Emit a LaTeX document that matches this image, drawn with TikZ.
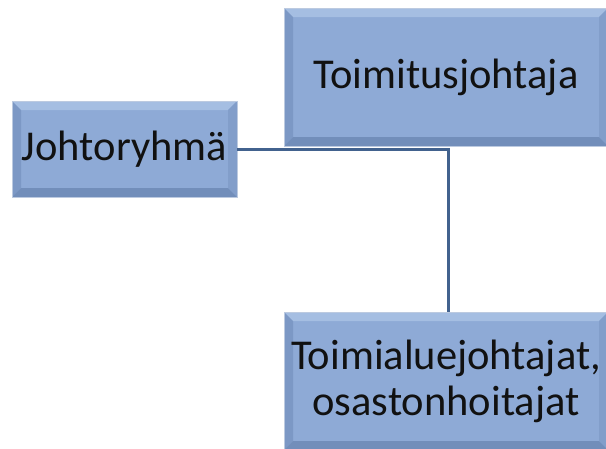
\documentclass[tikz,border=0pt]{standalone}
\usepackage{fontspec}
\setmainfont{Carlito}
\definecolor{boxfill}{RGB}{142,170,214}
\definecolor{bevtop}{RGB}{165,190,226}
\definecolor{bevleft}{RGB}{124,152,197}
\definecolor{bevright}{RGB}{130,158,202}
\definecolor{bevbot}{RGB}{114,142,186}
\definecolor{boxborder}{RGB}{188,202,224}
\definecolor{linecol}{RGB}{66,98,142}
\definecolor{txt}{RGB}{17,17,17}
\tikzset{
  bevelbox/.style={fill=boxfill, draw=boxborder, line width=0.8pt, inner sep=0pt,
    text=txt, font=\fontsize{42.5}{46}\selectfont, align=center,
    path picture={
      \path (path picture bounding box.north west) coordinate (pnw)
            (path picture bounding box.north east) coordinate (pne)
            (path picture bounding box.south west) coordinate (psw)
            (path picture bounding box.south east) coordinate (pse);
      \fill[bevtop] (pnw) -- (pne) -- ([shift={(-9pt,-9pt)}]pne) -- ([shift={(9pt,-9pt)}]pnw) -- cycle;
      \fill[bevleft] (pnw) -- ([shift={(9pt,-9pt)}]pnw) -- ([shift={(9pt,9pt)}]psw) -- (psw) -- cycle;
      \fill[bevright] (pne) -- ([shift={(-9pt,-9pt)}]pne) -- ([shift={(-9pt,9pt)}]pse) -- (pse) -- cycle;
      \fill[bevbot] (psw) -- ([shift={(9pt,9pt)}]psw) -- ([shift={(-9pt,9pt)}]pse) -- (pse) -- cycle;
    }},
  conn/.style={draw=linecol, line width=3pt}
}
\begin{document}
\begin{tikzpicture}[x=1pt,y=-1pt]
\useasboundingbox (0,0) rectangle (606,448);
\clip (0,0) rectangle (606,448);
\node[bevelbox, minimum width=324pt, minimum height=138pt] (ceo) at (446,77) {Toimitusjohtaja};
\node[bevelbox, minimum width=225pt, minimum height=96pt] (board) at (124.5,149) {Johtoryhmä};
\node[bevelbox, minimum width=324pt, minimum height=138pt] (heads) at (446,381) {Toimialuejohtajat,\\osastonhoitajat};
\coordinate (corner) at (448,149);
\draw[conn] (board.east) -- (corner) -- (corner |- heads.north);
\end{tikzpicture}
\end{document}
